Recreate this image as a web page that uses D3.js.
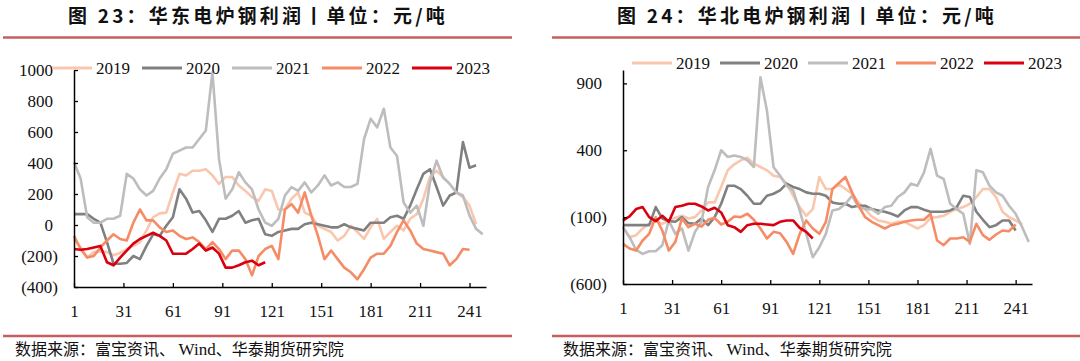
<!DOCTYPE html>
<html>
<head>
<meta charset="utf-8">
<script src="https://cdn.jsdelivr.net/npm/d3@7"></script>
<style>
  body { margin: 0; background: #fff; }
  svg { display: block; }
  .num { font-family: "Liberation Serif", "Times New Roman", serif; font-size: 17px; fill: #111; }
  .cjk { font-family: "Noto Sans CJK SC", sans-serif; }
</style>
</head>
<body>
<svg id="chart" width="1080" height="361"></svg>
<script>
// trading-day index (sampled every 4 days)
const days = [1,5,9,13,17,21,25,29,33,37,41,45,49,53,57,61,65,69,73,77,81,85,89,93,97,101,105,109,113,117,
  121,125,129,133,137,141,145,149,153,157,161,165,169,173,177,181,185,189,193,197,201,205,209,213,217,221,225,229,233,237,241,245,249];

const years = ["2019", "2020", "2021", "2022", "2023"];
const colors = ["#f9c7ad", "#808080", "#bdbdbd", "#f58c66", "#d9000f"];
const xTicks = [1, 31, 61, 91, 121, 151, 181, 211, 241];

// 华东 (East China) profit, yuan/ton
const east2019 = [-90,-145,-210,-175,-170,-175,-195,-180,-155,-135,-110,-35,50,75,80,210,330,320,350,350,
  360,320,265,310,310,255,220,180,155,230,220,100,100,170,210,80,60,-5,-25,-45,
  -100,-70,-5,-45,-90,-15,40,-90,-45,-5,-35,40,70,170,310,350,310,265,210,180,125,5];
const east2020 = [70,70,70,40,15,-110,-250,-250,-245,-200,-220,-135,-60,-70,-5,50,230,170,80,90,
  30,-45,40,40,60,90,15,30,40,-60,-70,-45,-35,-25,-25,5,15,5,-5,-15,
  -15,5,-15,-25,-35,15,15,15,50,60,40,125,230,330,360,245,125,190,210,535,370,385];
const east2021 = [405,300,50,15,15,40,40,60,330,300,230,190,220,300,360,460,480,500,500,555,
  610,985,425,170,230,340,275,230,100,15,-5,40,190,245,220,275,210,255,320,255,
  275,245,245,265,555,685,630,750,500,445,145,80,125,-5,275,415,305,265,210,190,60,-25,-60];
const east2022 = [-70,-155,-210,-200,-145,-100,-60,-90,-100,15,100,30,30,-15,-45,-35,-70,-90,-80,-110,
  -155,-110,-155,-220,-165,-165,-220,-325,-200,-155,-135,-220,100,135,80,210,60,-70,-220,-165,
  -220,-275,-305,-350,-285,-210,-185,-185,-135,-45,30,-35,-120,-155,-165,-175,-185,-260,-220,-155,-160];
const east2023 = [-155,-160,-155,-145,-135,-240,-260,-210,-165,-120,-90,-70,-50,-70,-100,-185,-185,-185,-155,-120,
  -165,-145,-185,-275,-275,-260,-240,-230,-260,-240];

// 华北 (North China) profit, yuan/ton
const north2019 = [-175,-250,-235,-185,-150,-125,-150,-125,-105,-90,-110,-100,-50,10,10,125,250,295,325,345,
  300,275,250,210,200,150,60,-25,-90,-40,200,110,110,145,110,75,10,-40,-95,-125,
  -135,-150,-135,-135,-160,-185,-160,-105,-100,-90,-60,-40,-25,0,50,110,110,50,-60,-100,-125,-155];
const north2020 = [-160,-160,-160,-160,-160,-25,-110,-130,-135,-100,-145,-150,-110,-160,-100,0,135,135,110,60,
  0,0,60,75,100,150,125,110,85,75,75,60,10,0,0,-25,-15,-15,-40,-50,
  -60,-75,-95,-50,-25,-25,-45,-60,-60,-60,-50,-25,60,50,-60,-120,-175,-160,-125,-125,-200];
const north2021 = [-175,-250,-345,-375,-355,-355,-310,-125,-225,-185,-350,-210,-135,125,250,400,350,360,350,325,
  275,945,695,275,210,135,100,-50,-225,-400,-325,-225,-50,-40,0,60,-25,-40,-40,-75,
  -25,-15,50,85,150,135,235,410,210,185,0,-40,-75,-300,250,235,135,85,60,-15,-75,-175,-285];
const north2022 = [-300,-335,-350,-275,-225,-100,-200,-350,-285,-110,-175,-150,-170,-120,-105,-155,-135,-95,-100,-75,
  -120,-185,-260,-210,-220,-285,-375,-225,-125,-185,-225,-135,110,155,200,85,-15,-100,-135,-160,
  -185,-160,-150,-135,-125,-120,-120,-75,-275,-310,-260,-260,-250,-285,-150,-235,-270,-230,-200,-205,-155];
const north2023 = [-125,-95,-40,-25,-100,-130,-90,-135,-25,-15,0,0,-20,-50,-30,-65,-160,-175,-210,-160,
  -150,-150,-155,-160,-135,-125,-125,-180,-210,-260];

const eastTicks = [-400, -200, 0, 200, 400, 600, 800, 1000];
const northTicks = [-600, -100, 400, 900];

const svg = d3.select("#chart");
svg.append("rect").attr("width", 1080).attr("height", 361).attr("fill", "#fff");

const fmt = v => v < 0 ? `(${-v})` : `${v}`;

const drawPanel = (selection, props) => {
  const {
    left, right, top, bottom,
    yDomain, yTicks, series,
    title, titleX, ruleX0, ruleX1, sourceX,
    legendX, legendStep, legendY
  } = props;

  const x = d3.scaleLinear().domain([1, 251]).range([left, right]);
  const y = d3.scaleLinear().domain(yDomain).range([bottom, top]);

  // title + rules
  selection.append("text")
    .attr("class", "cjk")
    .attr("x", titleX).attr("y", 22.5)
    .attr("text-anchor", "middle")
    .attr("font-size", 19).attr("font-weight", "bold")
    .attr("letter-spacing", 3.2)
    .attr("xml:space", "preserve")
    .attr("fill", "#111")
    .text(title);
  [37.5, 336].forEach(yy => {
    selection.append("line")
      .attr("x1", ruleX0).attr("x2", ruleX1)
      .attr("y1", yy).attr("y2", yy)
      .attr("stroke", "#c55f5f").attr("stroke-width", 2.6);
  });
  const src = selection.append("text")
    .attr("class", "cjk")
    .attr("x", sourceX).attr("y", 355)
    .attr("font-size", 16).attr("fill", "#111");
  src.append("tspan").text("数据来源：富宝资讯、 ");
  src.append("tspan").attr("font-family", "Liberation Serif, serif").attr("font-size", 17).text("Wind");
  src.append("tspan").text("、华泰期货研究院");

  // series
  const line = d3.line()
    .defined(d => d != null)
    .x((d, i) => x(days[i]))
    .y(d => y(d));

  selection.append("g")
    .selectAll("path")
    .data(series)
    .join("path")
      .attr("fill", "none")
      .attr("stroke", (d, i) => colors[i])
      .attr("stroke-width", 2.6)
      .attr("stroke-linejoin", "round")
      .attr("d", d => line(d));

  // axes
  const yAxis = selection.append("g")
    .attr("transform", `translate(${left},0)`)
    .call(d3.axisLeft(y).tickValues(yTicks).tickSize(-4).tickSizeOuter(0).tickPadding(16).tickFormat(fmt));
  yAxis.selectAll("text")
    .attr("class", "num")
    .attr("font-size", null).attr("font-family", null)
    .attr("fill", d => d < 0 ? "#ff1a1a" : "#111")
    .attr("x", d => d < 0 ? -16 : -21);

  const xAxis = selection.append("g")
    .attr("transform", `translate(0,${bottom})`)
    .call(d3.axisBottom(x).tickValues(xTicks).tickSize(-4).tickSizeOuter(0).tickPadding(18));
  xAxis.selectAll("text").attr("class", "num").attr("font-size", null).attr("font-family", null);

  [yAxis, xAxis].forEach(a => {
    a.select(".domain").attr("stroke", "#000").attr("stroke-width", 1.5);
    a.selectAll(".tick line").attr("stroke", "#000").attr("stroke-width", 1.3);
  });

  // legend
  const leg = selection.append("g")
    .selectAll("g")
    .data(years)
    .join("g")
      .attr("transform", (d, i) => `translate(${legendX + i * legendStep},${legendY})`);
  leg.append("line")
    .attr("x1", 0).attr("x2", 40)
    .attr("stroke", (d, i) => colors[i])
    .attr("stroke-width", 3.2);
  leg.append("text")
    .attr("class", "num")
    .attr("x", 44).attr("y", 6)
    .text(d => d);
};

drawPanel(svg.append("g"), {
  left: 74, right: 486, top: 70, bottom: 287,
  yDomain: [-400, 1000], yTicks: eastTicks,
  series: [east2019, east2020, east2021, east2022, east2023],
  title: "图 23：华东电炉钢利润丨单位：元/吨", titleX: 258,
  ruleX0: 3, ruleX1: 512, sourceX: 15,
  legendX: 52, legendStep: 90, legendY: 68
});

drawPanel(svg.append("g"), {
  left: 623, right: 1032, top: 70, bottom: 284,
  yDomain: [-600, 1000], yTicks: northTicks,
  series: [north2019, north2020, north2021, north2022, north2023],
  title: "图 24：华北电炉钢利润丨单位：元/吨", titleX: 807,
  ruleX0: 552, ruleX1: 1080, sourceX: 563,
  legendX: 632, legendStep: 88, legendY: 63
});
</script>
</body>
</html>
